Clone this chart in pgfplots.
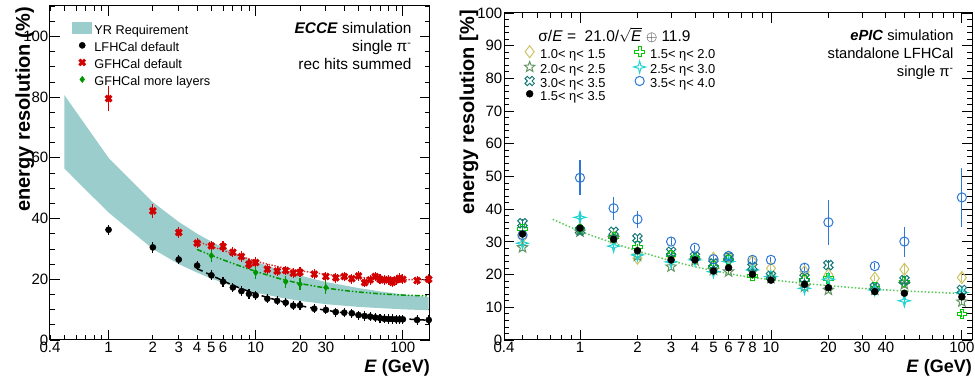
\documentclass[border=0pt]{standalone}
\usepackage{fontspec}
\setmainfont{Liberation Sans}
\usepackage{pgfplots}
\pgfplotsset{compat=1.18}

\definecolor{band}{RGB}{155,205,205}
\definecolor{rred}{RGB}{210,0,0}
\definecolor{rgreen}{RGB}{0,150,0}
\definecolor{ckhaki}{RGB}{205,195,100}
\definecolor{cgreen}{RGB}{0,205,0}
\definecolor{cgray}{RGB}{100,150,100}
\definecolor{ccyan}{RGB}{30,210,210}
\definecolor{cteal}{RGB}{20,120,120}
\definecolor{cblue}{RGB}{45,120,215}
\definecolor{cfit}{RGB}{90,200,90}

\pgfdeclareplotmark{ocross}{%
 \pgfpathmoveto{\pgfpoint{0.33\pgfplotmarksize}{\pgfplotmarksize}}%
 \pgfpathlineto{\pgfpoint{0.33\pgfplotmarksize}{0.33\pgfplotmarksize}}%
 \pgfpathlineto{\pgfpoint{\pgfplotmarksize}{0.33\pgfplotmarksize}}%
 \pgfpathlineto{\pgfpoint{\pgfplotmarksize}{-0.33\pgfplotmarksize}}%
 \pgfpathlineto{\pgfpoint{0.33\pgfplotmarksize}{-0.33\pgfplotmarksize}}%
 \pgfpathlineto{\pgfpoint{0.33\pgfplotmarksize}{-\pgfplotmarksize}}%
 \pgfpathlineto{\pgfpoint{-0.33\pgfplotmarksize}{-\pgfplotmarksize}}%
 \pgfpathlineto{\pgfpoint{-0.33\pgfplotmarksize}{-0.33\pgfplotmarksize}}%
 \pgfpathlineto{\pgfpoint{-\pgfplotmarksize}{-0.33\pgfplotmarksize}}%
 \pgfpathlineto{\pgfpoint{-\pgfplotmarksize}{0.33\pgfplotmarksize}}%
 \pgfpathlineto{\pgfpoint{-0.33\pgfplotmarksize}{0.33\pgfplotmarksize}}%
 \pgfpathlineto{\pgfpoint{-0.33\pgfplotmarksize}{\pgfplotmarksize}}%
 \pgfpathclose\pgfusepathqstroke}
\def\crossxpath{%
 \pgfpathmoveto{\pgfpoint{-0.474\pgfplotmarksize}{0.941\pgfplotmarksize}}%
 \pgfpathlineto{\pgfpoint{0pt}{0.467\pgfplotmarksize}}%
 \pgfpathlineto{\pgfpoint{0.474\pgfplotmarksize}{0.941\pgfplotmarksize}}%
 \pgfpathlineto{\pgfpoint{0.941\pgfplotmarksize}{0.474\pgfplotmarksize}}%
 \pgfpathlineto{\pgfpoint{0.467\pgfplotmarksize}{0pt}}%
 \pgfpathlineto{\pgfpoint{0.941\pgfplotmarksize}{-0.474\pgfplotmarksize}}%
 \pgfpathlineto{\pgfpoint{0.474\pgfplotmarksize}{-0.941\pgfplotmarksize}}%
 \pgfpathlineto{\pgfpoint{0pt}{-0.467\pgfplotmarksize}}%
 \pgfpathlineto{\pgfpoint{-0.474\pgfplotmarksize}{-0.941\pgfplotmarksize}}%
 \pgfpathlineto{\pgfpoint{-0.941\pgfplotmarksize}{-0.474\pgfplotmarksize}}%
 \pgfpathlineto{\pgfpoint{-0.467\pgfplotmarksize}{0pt}}%
 \pgfpathlineto{\pgfpoint{-0.941\pgfplotmarksize}{0.474\pgfplotmarksize}}%
 \pgfpathclose}
\pgfdeclareplotmark{ocrossx}{\crossxpath\pgfusepathqstroke}
\pgfdeclareplotmark{fcrossx}{\crossxpath\pgfusepathqfillstroke}
\pgfdeclareplotmark{ostarfive}{%
 \pgfpathmoveto{\pgfpointpolar{90}{\pgfplotmarksize}}%
 \pgfpathlineto{\pgfpointpolar{126}{0.42\pgfplotmarksize}}%
 \pgfpathlineto{\pgfpointpolar{162}{\pgfplotmarksize}}%
 \pgfpathlineto{\pgfpointpolar{198}{0.42\pgfplotmarksize}}%
 \pgfpathlineto{\pgfpointpolar{234}{\pgfplotmarksize}}%
 \pgfpathlineto{\pgfpointpolar{270}{0.42\pgfplotmarksize}}%
 \pgfpathlineto{\pgfpointpolar{306}{\pgfplotmarksize}}%
 \pgfpathlineto{\pgfpointpolar{342}{0.42\pgfplotmarksize}}%
 \pgfpathlineto{\pgfpointpolar{18}{\pgfplotmarksize}}%
 \pgfpathlineto{\pgfpointpolar{54}{0.42\pgfplotmarksize}}%
 \pgfpathclose\pgfusepathqstroke}
\pgfdeclareplotmark{ostarfour}{%
 \pgfpathmoveto{\pgfpointpolar{90}{\pgfplotmarksize}}%
 \pgfpathlineto{\pgfpointpolar{135}{0.3\pgfplotmarksize}}%
 \pgfpathlineto{\pgfpointpolar{180}{\pgfplotmarksize}}%
 \pgfpathlineto{\pgfpointpolar{225}{0.3\pgfplotmarksize}}%
 \pgfpathlineto{\pgfpointpolar{270}{\pgfplotmarksize}}%
 \pgfpathlineto{\pgfpointpolar{315}{0.3\pgfplotmarksize}}%
 \pgfpathlineto{\pgfpointpolar{0}{\pgfplotmarksize}}%
 \pgfpathlineto{\pgfpointpolar{45}{0.3\pgfplotmarksize}}%
 \pgfpathclose\pgfusepathqstroke}

\pgfplotsset{
 rootax/.style={scale only axis, tick align=inside,
  major tick length=10pt, minor tick length=5pt,
  tick style={black, line width=0.8pt}, axis line style={line width=1pt},
  /pgf/number format/assume math mode=true,
  tick label style={font=\fontsize{15}{15}\selectfont},
  xticklabel style={inner sep=2pt}, yticklabel style={inner sep=1.5pt},
  every axis x label/.style={at={(rel axis cs:1,0)}, anchor=north east, yshift=-19pt, inner sep=0pt, font=\bfseries\fontsize{18}{18}\selectfont}},
 errb/.style={error bars/y dir=both, error bars/y explicit, error bars/error mark=none, error bars/error bar style={line width=1.1pt}},
}

\begin{document}
\begin{tikzpicture}
% ---------------- left panel ----------------
\begin{axis}[xmode=log, rootax, at={(50pt,39pt)}, anchor=south west, width=380pt, height=334pt,
 xmin=0.4, xmax=153, ymin=0, ymax=110,
 xtick={1,10,100}, xticklabels={1,10,100},
 extra x ticks={0.4,2,3,4,5,6,20,30}, extra x tick labels={0.4,2,3,4,5,6,20,30},
 extra x tick style={major tick length=5pt},
 minor xtick={0.5,0.6,0.7,0.8,0.9,7,8,9,40,50,60,70,80,90},
 ytick={0,20,40,60,80,100}, minor ytick={5,10,...,110},
 xlabel={\textit{E} (GeV)}, ylabel={energy resolution (\%)},
 every axis y label/.style={at={(rel axis cs:0,1)}, xshift=-20pt, yshift=-1pt, rotate=90, anchor=base east, inner sep=0pt, font=\bfseries\fontsize{20}{20}\selectfont},
 legend style={at={(rel axis cs:0.058,0.951)}, anchor=north west, draw=none, fill=none, inner sep=0pt, outer sep=0pt,
   font=\fontsize{12.7}{13}\selectfont, row sep=3pt, column sep=1pt, nodes={inner sep=1pt, text height=9pt, text depth=3pt}},
 legend cell align=left,
 legend image code/.code={\path (0pt,0pt) (20pt,0pt); \draw[#1] plot coordinates {(10pt,3.5pt)};},
]
\addplot[fill=band, draw=none, legend image code/.code={\fill[band] (0pt,-2.5pt) rectangle (20pt,9.5pt);}] coordinates {
 (0.5,80.7) (1,60.0) (2,45.4) (3,38.9) (4,35.0) (5,32.4) (7,28.9) (10,25.8) (15,22.9) (20,21.2) (30,19.1) (50,17.1) (70,16.0) (100,15.0) (150,14.1)
 (150,9.8) (100,10.1) (70,10.5) (50,10.9) (30,11.8) (20,12.9) (15,13.9) (10,15.6) (7,17.7) (5,20.2) (4,22.2) (3,25.0) (2,30.0) (1,42.0) (0.5,56.5)
} -- cycle;
\addlegendentry{YR Requirement}
% fits
\addplot[forget plot, black, line width=1.5pt, dash pattern=on 6pt off 4pt] coordinates {
 (4,23.5) (5,21.3) (6,19.5) (7,18.0) (8,16.9) (10,15.2) (12,14.0) (15,12.7) (20,11.3) (25,10.4) (30,9.8) (40,8.9) (50,8.3) (60,7.9) (70,7.6) (80,7.3) (100,7.0) (125,6.7) (150,6.5)};
\addplot[forget plot, rred!80, line width=1.4pt, dash pattern=on 1.5pt off 1.5pt] coordinates {
 (4,32.5) (5,30.8) (6,29.5) (7,28.4) (8,27.5) (10,26.0) (12,25.0) (15,23.9) (20,22.8) (30,21.6) (40,21.0) (50,20.6) (70,20.2) (100,19.9) (150,19.8)};
\addplot[forget plot, rgreen, line width=1.5pt, dash pattern=on 5pt off 2pt on 1.5pt off 2pt on 1.5pt off 2pt] coordinates {
 (4,29.8) (5,27.9) (6,26.4) (8,24.2) (10,22.6) (12,21.4) (15,20.0) (20,18.6) (30,17.1) (40,16.3) (50,15.8) (70,15.2) (100,14.8) (150,14.5)};
% LFHCal default
\addplot[black, only marks, mark=*, mark size=3.1pt, errb] table[y error index=2] {
E R dR
1 36.3 1.7
2 30.5 1.7
3 26.5 1.6
4 24.5 1.6
5 21.3 1.6
6 19.2 1.6
7 17.3 1.6
8 16.1 1.6
9 15.2 1.6
10 14.7 1.5
12 13.6 1.5
14 12.9 1.5
16 12.3 1.5
18 11.3 1.5
20 11.4 1.5
25 10.3 1.5
30 9.9 1.5
35 9.2 1.5
40 9.0 1.5
45 8.8 1.5
50 8.2 1.5
55 7.9 1.5
60 7.7 1.5
65 7.4 1.5
70 7.2 1.5
75 7.0 1.5
80 6.9 1.5
85 6.9 1.5
90 6.8 1.5
95 6.8 1.5
100 6.8 1.5
125 6.6 1.6
150 6.6 1.6
};
\addlegendentry{LFHCal default}
% GFHCal default
\addplot[rred, only marks, mark=fcrossx, mark size=3.8pt, mark options={fill=rred, line width=0.4pt}, errb] table[y error index=2] {
E R dR
1 79.5 4.0
2 42.5 2.2
3 35.4 1.8
4 31.9 1.7
5 31.0 1.7
6 30.8 1.7
7 28.9 1.7
8 27.5 1.7
9 25.0 1.7
10 25.5 1.7
12 23.3 1.6
14 22.7 1.6
16 22.9 1.6
18 22.0 1.6
20 22.3 1.6
25 21.7 1.6
30 20.9 1.6
35 20.5 1.6
40 20.9 1.6
45 20.2 1.6
50 21.1 1.6
55 18.9 1.6
60 19.8 1.6
65 20.9 1.6
70 20.0 1.6
75 19.8 1.6
80 19.8 1.6
85 19.0 1.6
90 19.8 1.6
95 20.3 1.6
100 20.0 1.6
125 19.6 1.6
150 20.0 1.6
};
\addlegendentry{GFHCal default}
% GFHCal more layers
\addplot[rgreen, only marks, mark=diamond*, mark size=3.2pt, errb] table[y error index=2] {
E R dR
5 27.8 2.0
10 22.2 2.0
16 19.2 2.0
20 18.4 2.0
30 17.3 2.0
};
\addlegendentry{GFHCal more layers}
\node[anchor=base east, font=\fontsize{15.4}{16}\selectfont] at (rel axis cs:0.9605,0.918) {\textbf{\textit{ECCE}} simulation};
\node[anchor=base east, font=\fontsize{15.4}{16}\selectfont] at (rel axis cs:0.9605,0.8635) {single π\textsuperscript{-}};
\node[anchor=base east, font=\fontsize{15.4}{16}\selectfont] at (rel axis cs:0.9605,0.8084) {rec hits summed};
\end{axis}

% ---------------- right panel ----------------
\begin{axis}[xmode=log, rootax, at={(504pt,39pt)}, anchor=south west, width=468pt, height=327pt,
 xmin=0.4, xmax=113, ymin=0, ymax=100,
 xtick={1,10,100}, xticklabels={1,10,100},
 extra x ticks={0.4,2,3,4,5,6,7,8,20,30,40}, extra x tick labels={0.4,2,3,4,5,6,7,8,20,30,40},
 extra x tick style={major tick length=5pt},
 minor xtick={0.5,0.6,0.7,0.8,0.9,9,50,60,70,80,90},
 ytick={0,10,...,100}, minor ytick={2,4,...,100},
 xlabel={\textit{E} (GeV)}, ylabel={energy resolution [\%]},
 every axis y label/.style={at={(rel axis cs:0,1)}, xshift=-30pt, yshift=3pt, rotate=90, anchor=base east, inner sep=0pt, font=\bfseries\fontsize{20}{20}\selectfont},
 legend columns=2,
 legend style={at={(rel axis cs:0.0416,0.9)}, anchor=north west, draw=none, fill=none, inner sep=0pt, outer sep=0pt,
   font=\fontsize{12.9}{13}\selectfont, row sep=-1.2pt, column sep=3.3pt, nodes={inner sep=1pt, text height=9pt, text depth=3pt},
   /tikz/every even column/.append style={column sep=27pt}},
 legend cell align=left,
 legend image code/.code={\path (0pt,0pt) (12pt,0pt); \draw[#1] plot coordinates {(6pt,3.5pt)};},
]
\addplot[forget plot, cfit, line width=1.5pt, dash pattern=on 1.5pt off 2pt] coordinates {
 (0.72,36.9) (1,33.2) (1.5,29.6) (2,27.2) (3,24.2) (4,22.4) (5,21.2) (7,19.6) (10,18.4) (15,17.3) (20,16.6) (35,15.5) (50,15.0) (100,14.2)};
\addplot[ckhaki, only marks, mark=diamond, mark size=6pt, mark options={line width=1pt}, errb] table[y error index=2] {
E R dR
0.5 31.5 1.0
1 34.0 1.0
1.5 31.5 1.0
2 25.0 1.0
3 25.6 1.0
4 25.0 1.0
5 25.0 1.0
6 25.3 1.0
8 23.9 1.0
10 21.9 1.0
15 20.9 1.0
20 19.9 1.0
35 18.9 1.0
50 21.6 1.5
100 19.1 1.5
};
\addlegendentry{1.0< η< 1.5}
\addplot[cgreen, only marks, mark=ocross, mark size=4.8pt, mark options={line width=1pt}, errb] table[y error index=2] {
E R dR
0.5 33.9 1.0
1 34.0 1.0
1.5 31.4 1.0
2 28.5 1.0
3 26.0 1.0
4 25.0 1.0
5 22.4 1.0
6 24.5 1.0
8 19.6 1.0
10 18.9 1.0
15 18.3 1.0
20 18.8 1.0
35 16.0 1.0
50 17.8 1.0
100 7.9 1.0
};
\addlegendentry{1.5< η< 2.0}
\addplot[cgray, only marks, mark=ostarfive, mark size=5.5pt, mark options={line width=1pt}, errb] table[y error index=2] {
E R dR
0.5 28.3 1.0
1 33.1 1.0
1.5 31.1 1.0
2 25.7 1.0
3 22.4 1.0
4 24.3 1.0
5 21.4 1.0
6 20.9 1.0
8 20.9 1.0
10 18.9 1.0
15 16.3 1.0
20 15.3 1.0
35 15.3 1.0
50 17.0 1.0
100 11.7 1.0
};
\addlegendentry{2.0< η< 2.5}
\addplot[ccyan, only marks, mark=ostarfour, mark size=6pt, mark options={line width=1pt}, errb] table[y error index=2] {
E R dR
0.5 29.6 1.0
1 37.5 1.5
1.5 28.7 1.0
2 26.0 1.0
3 23.9 1.0
4 24.5 1.0
5 20.9 1.0
6 24.0 1.0
8 21.4 1.0
10 19.4 1.0
15 15.8 1.0
20 18.6 1.0
35 15.3 1.0
50 12.0 1.0
100 14.5 1.0
};
\addlegendentry{2.5< η< 3.0}
\addplot[cteal, only marks, mark=ocrossx, mark size=5pt, mark options={line width=1pt}, errb] table[y error index=2] {
E R dR
0.5 35.7 1.2
1 33.5 1.0
1.5 33.1 1.0
2 31.1 1.0
3 27.0 1.0
4 25.5 1.0
5 23.4 1.0
6 25.3 1.0
8 22.4 1.0
10 19.6 1.0
15 19.1 1.0
20 22.9 1.5
35 16.1 1.0
50 18.3 1.0
100 15.3 1.0
};
\addlegendentry{3.0< η< 3.5}
\addplot[cblue, only marks, mark=o, mark size=4.6pt, mark options={line width=1pt}, errb] table[y error index=2] {
E R dR
0.5 32.1 1.0
1 49.6 5.3
1.5 40.3 3.5
2 36.9 2.5
3 30.1 1.2
4 28.2 1.0
5 24.7 1.0
6 25.7 1.0
8 24.5 1.0
10 24.5 1.0
15 22.1 1.0
20 36.0 6.8
35 22.6 1.0
50 30.1 4.6
100 43.6 8.9
};
\addlegendentry{3.5< η< 4.0}
\addplot[black, only marks, mark=*, mark size=3.5pt, errb] table[y error index=2] {
E R dR
0.5 32.4 0.8
1 34.2 0.8
1.5 30.8 0.8
2 27.3 0.8
3 24.5 0.8
4 24.5 0.8
5 21.1 0.8
6 22.1 0.8
8 20.1 0.8
10 18.3 0.8
15 17.0 0.8
20 16.0 0.8
35 14.8 0.8
50 14.3 0.8
100 13.2 0.8
};
\addlegendentry{1.5< η< 3.5}
\node[anchor=base west, font=\fontsize{15.5}{16}\selectfont] at (rel axis cs:0.066,0.914) {σ/\textit{E} =\ \ 21.0/$\sqrt{\mbox{\textit{E}}}$ $\oplus$ 11.9};
\node[anchor=base east, font=\fontsize{14.7}{15}\selectfont] at (rel axis cs:0.968,0.9174) {\textbf{\textit{ePIC}} simulation};
\node[anchor=base east, font=\fontsize{14.7}{15}\selectfont] at (rel axis cs:0.968,0.8614) {standalone LFHCal};
\node[anchor=base east, font=\fontsize{14.7}{15}\selectfont] at (rel axis cs:0.968,0.8058) {single π\textsuperscript{-}};
\end{axis}
\pgfresetboundingbox
\path[use as bounding box] (0pt,0pt) rectangle (975pt,379pt);
\end{tikzpicture}
\end{document}
